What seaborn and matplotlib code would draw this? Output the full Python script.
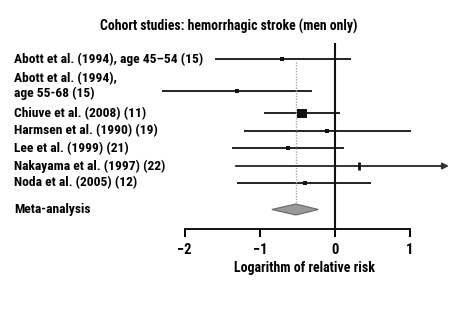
import matplotlib
matplotlib.use("Agg")
import matplotlib.pyplot as plt
import seaborn as sns
import pandas as pd

# ---- data (log relative risk) ----
studies = ["Abott et al. (1994), age 45\u201354 (15)",
           "Abott et al. (1994),\nage 55-68 (15)",
           "Chiuve et al. (2008) (11)",
           "Harmsen et al. (1990) (19)",
           "Lee et al. (1999) (21)",
           "Nakayama et al. (1997) (22)",
           "Noda et al. (2005) (12)"]
estimate = [-0.70, -1.30, -0.44, -0.10, -0.62, 0.32, -0.40]
ci_low = [-1.60, -2.30, -0.94, -1.21, -1.37, -1.32, -1.30]
ci_high = [0.21, -0.30, 0.07, 1.01, 0.12, 2.20, 0.48]
weight = [1, 1, 6, 1, 1, 1, 1]
meta_label = "Meta-analysis"
meta_est, meta_low, meta_high = -0.52, -0.84, -0.22
xticks = [-2, -1, 0, 1]
xticklabels = ["\u22122", "\u22121", "0", "1"]
title = "Cohort studies: hemorrhagic stroke (men only)"
xlabel = "Logarithm of relative risk"

# ---- layout ----
W, H = 459, 331
row_y = [59.3, 91.0, 113.3, 130.7, 148.3, 166.0, 182.7]
meta_y = 209.5
label_y = [59.3, 86.0, 113.3, 130.7, 148.3, 166.0, 182.7]

sns.set_style("white")
plt.rcParams["font.family"] = ["Roboto Condensed", "DejaVu Sans"]
plt.rcParams["font.weight"] = "bold"
plt.rcParams["text.color"] = "black"
plt.rcParams["axes.labelcolor"] = "black"
FS = 9.7

fig = plt.figure(figsize=(W / 100, H / 100), dpi=100)
ax_left, ax_right, ax_top, ax_bot = 150, 459, 40, 229
ax = fig.add_axes([ax_left / W, 1 - ax_bot / H, (ax_right - ax_left) / W, (ax_bot - ax_top) / H])
px_per_unit = 75.1
x0_px = 334.9
xmax_clip = (449 - x0_px) / px_per_unit
ax.set_xlim((ax_left - x0_px) / px_per_unit, (ax_right - x0_px) / px_per_unit)
ax.set_ylim(ax_bot, ax_top)

df = pd.DataFrame({"study": studies, "est": estimate, "lo": ci_low, "hi": ci_high,
                   "w": weight, "y": row_y})

# CI lines
for _, r in df.iterrows():
    hi = min(r.hi, xmax_clip)
    if r.hi > xmax_clip:
        ax.annotate("", xy=(hi, r.y), xytext=(r.lo, r.y),
                    arrowprops=dict(arrowstyle="-|>", color="#333333", lw=1.4,
                                    mutation_scale=9, shrinkA=0, shrinkB=0))
    else:
        ax.hlines(r.y, r.lo, hi, color="#222222", lw=1.4)

# dotted line at meta estimate
ax.vlines(meta_est, 62, meta_y - 4, color="#aaaaaa", lw=1.0, linestyles=(0, (1, 1)))

# vertical null line
ax.vlines(0, 43, ax_bot, color="#111111", lw=1.5, zorder=3)

# points
sq = df[df.study != studies[5]]
sns.scatterplot(data=sq, x="est", y="y", size="w", sizes=(9, 45), marker="s",
                color="#111111", edgecolor="#111111", linewidth=0, legend=False, ax=ax, zorder=4)
tick = df[df.study == studies[5]]
sns.scatterplot(data=tick, x="est", y="y", marker="|", s=40, color="#111111",
                linewidth=2, legend=False, ax=ax, zorder=4)

# diamond
ax.fill([meta_low, meta_est, meta_high, meta_est],
        [meta_y, meta_y - 5.5, meta_y, meta_y + 5.5],
        facecolor="#999999", edgecolor="#666666", lw=0.8, zorder=4)

# labels
for lab, y in zip(studies, label_y):
    fig.text(14 / W, 1 - y / H, lab, ha="left", va="center", fontsize=FS,
             fontweight="bold", linespacing=1.2)
fig.text(14 / W, 1 - meta_y / H, meta_label, ha="left", va="center", fontsize=FS,
         fontweight="bold")

fig.text(229 / W, 1 - 26 / H, title, ha="center", va="center", fontsize=9.9, fontweight="bold")

# axes styling
for s in ["top", "right", "left"]:
    ax.spines[s].set_visible(False)
ax.spines["bottom"].set_bounds(xticks[0], xticks[-1])
ax.spines["bottom"].set_linewidth(1.4)
ax.spines["bottom"].set_color("#111111")
ax.set_xticks(xticks)
ax.set_xticklabels(xticklabels)
ax.tick_params(axis="x", direction="out", length=6, width=1.4, colors="black",
               labelsize=10.5, pad=4, bottom=True)
ax.set_yticks([])
ax.set_xlabel(xlabel, fontsize=10, fontweight="bold", labelpad=3)
ax.set_ylabel("")
ax.patch.set_alpha(0)

fig.savefig("out.png", dpi=100)
